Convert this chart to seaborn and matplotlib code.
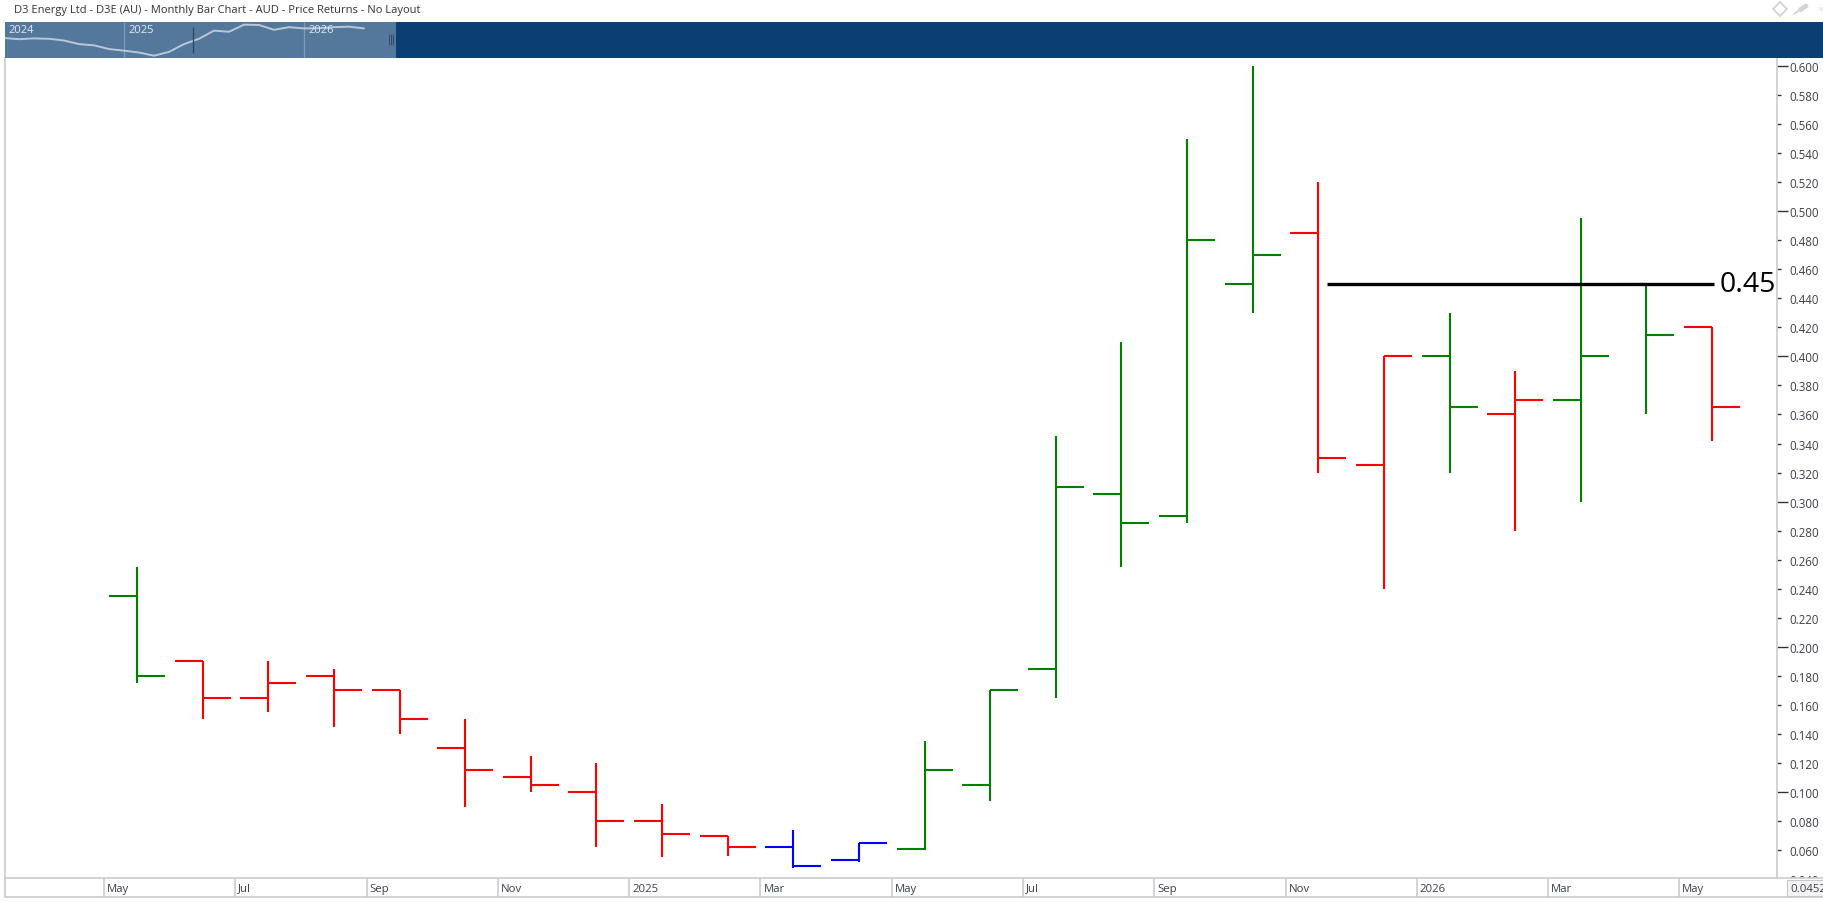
import numpy as np
import pandas as pd
import matplotlib
matplotlib.use('Agg')
import matplotlib.pyplot as plt
from matplotlib.lines import Line2D
from matplotlib.ticker import MultipleLocator, FormatStrFormatter
import seaborn as sns

# Monthly bars, May 2024 to May 2026
months = ['2024-05', '2024-06', '2024-07', '2024-08', '2024-09', '2024-10', '2024-11', '2024-12',
          '2025-01', '2025-02', '2025-03', '2025-04', '2025-05', '2025-06', '2025-07', '2025-08',
          '2025-09', '2025-10', '2025-11', '2025-12', '2026-01', '2026-02', '2026-03', '2026-04', '2026-05']
opens = [0.235, 0.190, 0.165, 0.180, 0.170, 0.130, 0.110, 0.100, 0.080, 0.070, 0.062, 0.053, 0.061,
         0.105, 0.185, 0.305, 0.290, 0.450, 0.485, 0.325, 0.400, 0.360, 0.370, 0.450, 0.420]
highs = [0.255, 0.190, 0.190, 0.185, 0.170, 0.150, 0.125, 0.120, 0.092, 0.070, 0.074, 0.065, 0.135,
         0.170, 0.345, 0.410, 0.550, 0.600, 0.520, 0.400, 0.430, 0.390, 0.495, 0.450, 0.420]
lows = [0.175, 0.150, 0.155, 0.145, 0.140, 0.090, 0.100, 0.062, 0.055, 0.056, 0.048, 0.052, 0.060,
        0.094, 0.165, 0.255, 0.285, 0.430, 0.320, 0.240, 0.320, 0.280, 0.300, 0.360, 0.342]
closes = [0.180, 0.165, 0.175, 0.170, 0.150, 0.115, 0.105, 0.080, 0.071, 0.062, 0.049, 0.065, 0.115,
          0.170, 0.310, 0.285, 0.480, 0.470, 0.330, 0.400, 0.365, 0.370, 0.400, 0.415, 0.365]
bar_state = ['up', 'down', 'down', 'down', 'down', 'down', 'down', 'down', 'down', 'down', 'flat', 'flat', 'up',
             'up', 'up', 'up', 'up', 'up', 'down', 'down', 'up', 'down', 'up', 'up', 'down']

time_labels = ['May', 'Jul', 'Sep', 'Nov', '2025', 'Mar', 'May', 'Jul', 'Sep', 'Nov', '2026', 'Mar', 'May']
nav_years = ['2024', '2025', '2026']
level_value = 0.45
level_start = 18.13
level_end = 24.03
title = 'D3 Energy Ltd - D3E (AU) - Monthly Bar Chart - AUD - Price Returns - No Layout'

colours = {'up': '#008000', 'down': '#FF0000', 'flat': '#0000FF'}
GREY = '#C8C8C8'
TEXT = '#3A3F4A'
W, H = 1824, 903
STEP = 65.63
X0 = 137.0


def box(left, top, right, bottom):
    """Pixel box to figure fraction rect"""
    return [left / W, 1 - bottom / H, (right - left) / W, (bottom - top) / H]


def to_bar(px):
    return (px - X0) / STEP


def to_val(py):
    return 0.6 - (py - 67.0) / 1452.0


sns.set_style('white')
plt.rcParams['font.family'] = ['Open Sans', 'DejaVu Sans']

fig = plt.figure(figsize=(W / 100, H / 100), dpi=100, facecolor='white')

# Main price panel
ax = fig.add_axes(box(5.5, 59, 1777, 881), zorder=1)
ax.set_xlim(to_bar(5.5), to_bar(1777))
ax.set_ylim(to_val(881), to_val(59))

df = pd.DataFrame({'month': months, 'pos': np.arange(len(months)), 'open': opens, 'high': highs,
                   'low': lows, 'close': closes, 'state': bar_state})
stems = df.melt(id_vars=['month', 'pos', 'state'], value_vars=['high', 'low'], value_name='price')
sns.lineplot(data=stems, x='pos', y='price', hue='state', units='month', estimator=None,
             palette=colours, linewidth=1.5, legend=False, ax=ax, solid_capstyle='butt')

tick_w = 28 / STEP
bar_cols = df['state'].map(colours)
ax.hlines(df['open'], df['pos'] - tick_w, df['pos'], colors=bar_cols, linewidth=1.5, capstyle='butt')
ax.hlines(df['close'], df['pos'], df['pos'] + tick_w, colors=bar_cols, linewidth=1.5, capstyle='butt')

# Drawn level
ax.hlines(level_value, level_start, level_end, colors='black', linewidth=2.4, capstyle='butt', zorder=4)
ax.text(level_end + 6 / STEP, level_value, f'{level_value:.2f}', fontsize=20.5, color='black', va='center', ha='left')

ax.set_xlabel('')
ax.set_ylabel('')
ax.set_xticks([])
ax.yaxis.tick_right()
ax.yaxis.set_major_locator(MultipleLocator(0.1))
ax.yaxis.set_minor_locator(MultipleLocator(0.02))
ax.yaxis.set_major_formatter(FormatStrFormatter('%.3f'))
ax.yaxis.set_minor_formatter(FormatStrFormatter('%.3f'))
ax.tick_params(axis='y', which='major', right=True, length=8, width=1, color='#333333', pad=1,
               labelsize=8.3, labelcolor=TEXT)
ax.tick_params(axis='y', which='minor', right=True, length=3, width=1, color='#333333', pad=6,
               labelsize=8.3, labelcolor=TEXT)
for side in ['top', 'bottom']:
    ax.spines[side].set_visible(False)
for side in ['left', 'right']:
    ax.spines[side].set_color(GREY)
    ax.spines[side].set_linewidth(1.1)

# Time strip
ax_time = fig.add_axes(box(5.5, 879, W, 898), zorder=3, facecolor='white')
ax_time.set_xlim(to_bar(5.5), to_bar(W))
ax_time.set_ylim(0, 1)
ax_time.set_yticks([])
ax_time.set_xticks([])
starts = np.arange(len(time_labels)) * 2 - 0.5
ax_time.vlines(starts, 0, 1, colors=GREY, linewidth=1.1)
for s, label in zip(starts, time_labels):
    ax_time.text(s + 3 / STEP, 0.47, label, fontsize=8.2, color=TEXT, va='center', ha='left')
for side in ['top', 'bottom', 'left']:
    ax_time.spines[side].set_color(GREY)
    ax_time.spines[side].set_linewidth(1.1)
ax_time.spines['right'].set_visible(False)
ax_time.text(to_bar(1790), 0.47, '0.0452', fontsize=8.2, color=TEXT, va='center', ha='left',
             bbox=dict(boxstyle='square,pad=0.25', fc='#F4F4F4', ec=GREY, lw=0.8))

# Navigator strip along the top
NAV_STEP = 15.0
NAV_X0 = 4.0
ax_nav = fig.add_axes(box(5, 23, W, 59), zorder=2, facecolor='#0B3F73')
ax_nav.set_xlim((5 - NAV_X0) / NAV_STEP, (W - NAV_X0) / NAV_STEP)
ax_nav.set_yscale('log')
ax_nav.set_ylim(0.0414, 0.585)
ax_nav.axvspan((5 - NAV_X0) / NAV_STEP, (396 - NAV_X0) / NAV_STEP, color='#54779C', lw=0, zorder=0)
year_pos = [0, 8, 20]
ax_nav.vlines(year_pos[1:], 0.0414, 0.585, colors='#7F9BB8', linewidth=0.9, zorder=1)
sns.lineplot(data=df, x='pos', y='close', color='#B9C8D8', linewidth=1.4, ax=ax_nav, legend=False)
trans = ax_nav.get_xaxis_transform()
for yr, pos in zip(nav_years, year_pos):
    ax_nav.text(pos + 4 / NAV_STEP, 0.8, yr, fontsize=8, color='#E3EAF1',
                transform=trans, va='center', ha='left')
ax_nav.vlines((193 - NAV_X0) / NAV_STEP, 0.14, 0.85, colors='#30475F', linewidth=0.9, transform=trans, zorder=3)
ax_nav.vlines((np.array([389.5, 391.5, 393.5]) - NAV_X0) / NAV_STEP, 0.35, 0.68, colors='#2F4A68',
              linewidth=0.7, transform=trans, zorder=3)
ax_nav.set_xticks([])
ax_nav.set_yticks([])
ax_nav.minorticks_off()
ax_nav.set_xlabel('')
ax_nav.set_ylabel('')
for spine in ax_nav.spines.values():
    spine.set_visible(False)

# Title and window icons
fig.text(14 / W, 1 - 10 / H, title, fontsize=8.05, color='#2F3338', va='center', ha='left')
fig.add_artist(Line2D([1780 / W], [1 - 10 / H], marker='D', markersize=7.5, mfc='white', mec='#D0D0D0', mew=1.2,
                      transform=fig.transFigure))
fig.add_artist(Line2D([1794 / W, 1801 / W], [1 - 15 / H, 1 - 10 / H], color='#D4D4D4', lw=1.2, transform=fig.transFigure))
fig.add_artist(Line2D([1800 / W, 1806 / W], [1 - 11 / H, 1 - 7 / H], color='#D4D4D4', lw=3.4, transform=fig.transFigure))
fig.add_artist(Line2D([1821 / W, 1824 / W], [1 - 10 / H, 1 - 10 / H], color='#EEEEEE', lw=3, transform=fig.transFigure))

fig.savefig('out.png', dpi=100)
